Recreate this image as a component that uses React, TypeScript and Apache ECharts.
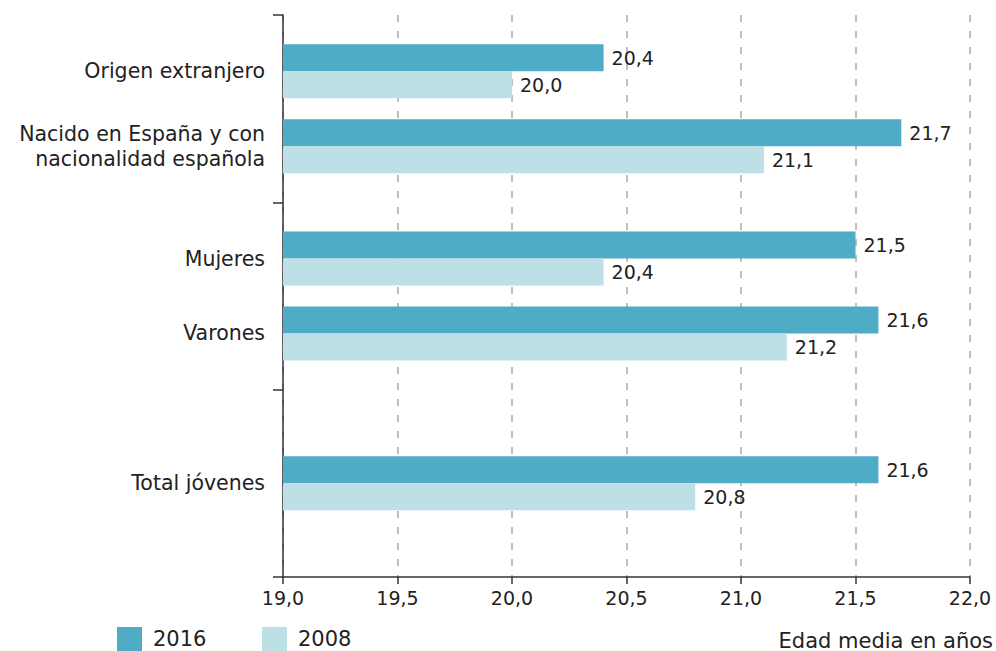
import React, { useEffect, useRef } from "react";
import * as echarts from "echarts";

const categories = [
  "_a",
  "Origen extranjero",
  "_b",
  "Nacido en España y con\nnacionalidad española",
  "_c",
  "_d",
  "Mujeres",
  "_e",
  "Varones",
  "_f",
  "_g",
  "_h",
  "Total jóvenes",
  "_i",
  "_j",
];
const values2016: (number | null)[] = [null, 20.4, null, 21.7, null, null, 21.5, null, 21.6, null, null, null, 21.6, null, null];
const values2008: (number | null)[] = [null, 20.0, null, 21.1, null, null, 20.4, null, 21.2, null, null, null, 20.8, null, null];
const seriesNames = ["2016", "2008"];
const xMin = 19;
const xMax = 22;
const xStep = 0.5;
const axisTitle = "Edad media en años";

const FONT = "'DejaVu Sans', sans-serif";
const DARK = "#4EACC6";
const LIGHT = "#BDDFE6";

export default function App() {
  const ref = useRef<HTMLDivElement>(null);
  useEffect(() => {
    document.body.style.margin = "0";
    if (!ref.current) return;
    const chart = echarts.init(ref.current, undefined, { renderer: "svg" });
    const fmt = (v: number) => v.toFixed(1).replace(".", ",");
    const mk = (name: string, vals: (number | null)[], color: string) => ({
      name,
      type: "bar",
      data: vals.map((v) => (v == null ? "-" : v)),
      barWidth: 27,
      barGap: "0%",
      itemStyle: { color },
      clip: true,
      label: {
        show: true,
        position: "right",
        distance: 8,
        color: "#222",
        fontFamily: FONT,
        fontSize: 19,
        formatter: (p: any) => fmt(p.value),
      },
    });
    const legendText = { fontFamily: FONT, fontSize: 21, lineHeight: 20, color: "#222", padding: [0, 0, 0, 6] };
    const legendBase = {
      top: 627,
      itemWidth: 25,
      itemHeight: 24,
      padding: 0,
      icon: "rect",
      textStyle: legendText,
    };
    chart.setOption({
      animation: false,
      grid: { left: 283, right: 26, top: 15, bottom: 74, containLabel: false },
      legend: [
        { ...legendBase, data: [seriesNames[0]], left: 117 },
        { ...legendBase, data: [seriesNames[1]], left: 262 },
      ],
      xAxis: {
        type: "value",
        min: xMin,
        max: xMax,
        interval: xStep,
        axisLine: { show: true, lineStyle: { color: "#333", width: 1.5 } },
        axisTick: { show: true, length: 7, lineStyle: { color: "#333", width: 1.5 } },
        axisLabel: {
          margin: 11,
          fontFamily: FONT,
          fontSize: 19,
          color: "#222",
          formatter: (v: number) => fmt(v),
        },
        splitLine: {
          show: true,
          lineStyle: { color: "#aaa", type: [7, 9], width: 1.5 },
        },
      },
      yAxis: {
        type: "category",
        data: categories,
        inverse: true,
        axisLine: { show: true, lineStyle: { color: "#333", width: 1.5 } },
        axisTick: {
          show: true,
          interval: (i: number) => i % 5 === 0,
          length: 10,
          lineStyle: { color: "#333", width: 1.5 },
        },
        axisLabel: {
          interval: 0,
          margin: 18,
          fontFamily: FONT,
          fontSize: 20.5,
          color: "#222",
          lineHeight: 25,
          align: "right",
          formatter: (v: string) => (v.startsWith("_") ? "" : v),
        },
        splitLine: { show: false },
      },
      graphic: [
        {
          type: "text",
          right: 3,
          top: 630,
          style: { text: axisTitle, fontFamily: FONT, fontSize: 21, lineHeight: 20, fill: "#222" },
        },
      ],
      series: [mk(seriesNames[0], values2016, DARK), mk(seriesNames[1], values2008, LIGHT)],
    });
    return () => chart.dispose();
  }, []);
  return <div ref={ref} style={{ width: 996, height: 651 }} />;
}
